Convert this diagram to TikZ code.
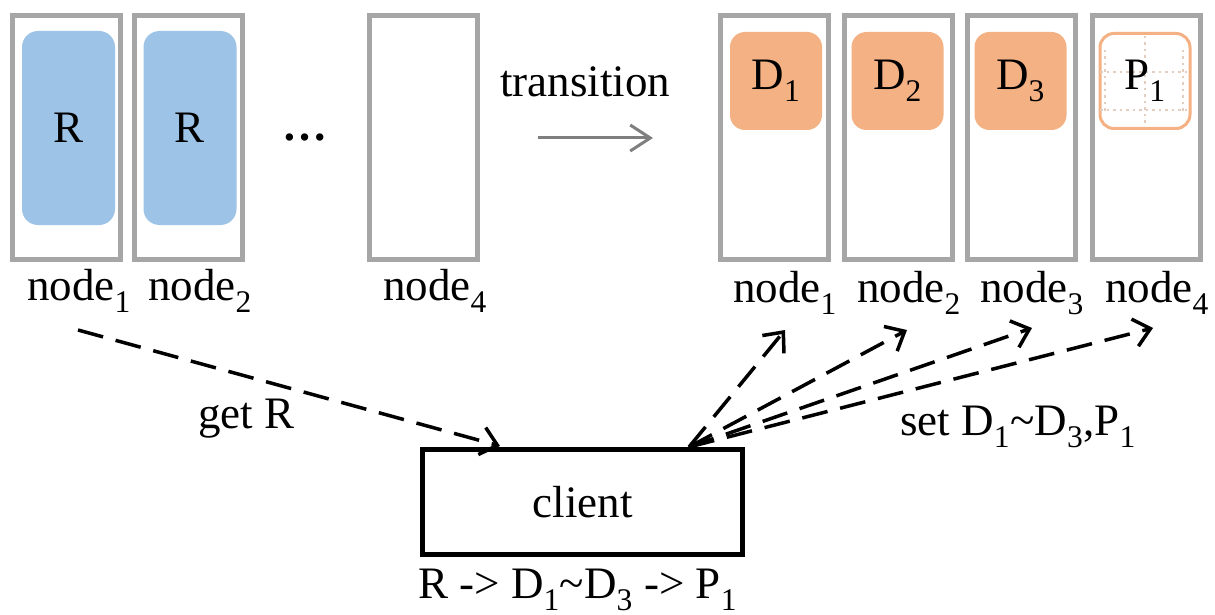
\documentclass[tikz,border=0pt]{standalone}
\usepackage{fontspec}
\setmainfont{Liberation Serif}
\usetikzlibrary{arrows.meta,calc}
\definecolor{boxgrey}{HTML}{A6A6A6}
\definecolor{rblue}{HTML}{9DC3E6}
\definecolor{dorange}{HTML}{F4B183}
\definecolor{gridc}{HTML}{E3CDBE}
\definecolor{transgrey}{HTML}{7F7F7F}
\newcommand\mysub[1]{\textsubscript{#1}}
\tikzset{
  nodebox/.style={draw=boxgrey, line width=5pt, minimum width=108pt, minimum height=244pt, inner sep=0pt},
  rblock/.style={fill=rblue, rounded corners=16pt, minimum width=93pt, minimum height=194pt, inner sep=0pt},
  dblock/.style={fill=dorange, rounded corners=15pt, minimum width=92pt, minimum height=98pt, inner sep=0pt},
  pblock/.style={draw=dorange, line width=3pt, fill=white, rounded corners=14pt, minimum width=90pt, minimum height=95pt, inner sep=0pt},
  gridline/.style={draw=gridc, line width=2.5pt, dash pattern=on 2.5pt off 4pt},
  lbl/.style={anchor=base west, inner sep=0pt},
  clientbox/.style={draw=black, line width=5pt, minimum width=320pt, minimum height=105pt, inner sep=0pt},
  conn/.style={line width=3.5pt, dash pattern=on 26pt off 13pt, -{Straight Barb[length=16pt,width=28pt]}},
  transarrow/.style={draw=transgrey, line width=3pt, -{Straight Barb[length=20pt,width=26pt]}}
}
\begin{document}
\begin{tikzpicture}[x=1pt,y=-1pt,font=\fontsize{45}{54}\selectfont]
\useasboundingbox (0,0) rectangle (1215,615);
% left group
\node[nodebox] (L1) at (66,137.5) {};
\node[nodebox] (L2) at (188.5,137.5) {};
\node[nodebox] (L4) at (423.5,137.5) {};
\node[rblock] (R1) at (68.5,128) {R};
\node[rblock] (R2) at (190,128) {R};
\node[lbl] (dots) at (282,141) {\textbf{…}};
\node[lbl] (ln1) at (27,300) {node\mysub{1}};
\node[lbl] (ln2) at (148,300) {node\mysub{2}};
\node[lbl] (ln4) at (383,300) {node\mysub{4}};
% transition
\node[lbl] (trans) at (500,97) {transition};
\coordinate (ta) at (538,138);
\coordinate (tb) at (653,138);
\draw[transarrow] (ta) -- (tb);
% right group
\node[nodebox] (N1) at (774.5,137.5) {};
\node[nodebox] (N2) at (898,137.5) {};
\node[nodebox] (N3) at (1021.5,137.5) {};
\node[nodebox] (N4) at (1146,137.5) {};
\node[dblock] (D1) at (776,81) {D\mysub{1}};
\node[dblock] (D2) at (897.5,81) {D\mysub{2}};
\node[dblock] (D3) at (1020.5,81) {D\mysub{3}};
\node[pblock] (P1) at (1145,81) {};
\draw[gridline] (1145,36) -- (1145,127);
\draw[gridline] (1100,72) -- (1190,72);
\draw[gridline] (1100,110) -- (1190,110);
\draw[gridline] (1105,50) -- (1105,112);
\draw[gridline] (1183,50) -- (1183,112);
\node[inner sep=0pt] (P1t) at (P1.center) {P\mysub{1}};
\node[lbl] (rn1) at (733,302) {node\mysub{1}};
\node[lbl] (rn2) at (857,302) {node\mysub{2}};
\node[lbl] (rn3) at (980,302) {node\mysub{3}};
\node[lbl] (rn4) at (1105,302) {node\mysub{4}};
% client
\node[clientbox] (client) at (582.5,502) {client};
\node[lbl] (seq) at (418,598) {R -> D\mysub{1}\textasciitilde D\mysub{3} -> P\mysub{1}};
% connectors
\coordinate (gs) at (78,330);
\coordinate (ge) at (500,446);
\draw[conn] (gs) -- (ge);
\node[lbl] (getR) at (198,428) {get R};
\coordinate (cs) at (689,447);
\coordinate (e1) at (785,330);
\coordinate (e2) at (907,330);
\coordinate (e3) at (1032,328);
\coordinate (e4) at (1153,328);
\draw[conn] (cs) -- (e1);
\draw[conn] (cs) -- (e2);
\draw[conn] (cs) -- (e3);
\draw[conn] (cs) -- (e4);
\node[lbl] (setl) at (900,435) {set D\mysub{1}\textasciitilde D\mysub{3},P\mysub{1}};
\end{tikzpicture}
\end{document}
